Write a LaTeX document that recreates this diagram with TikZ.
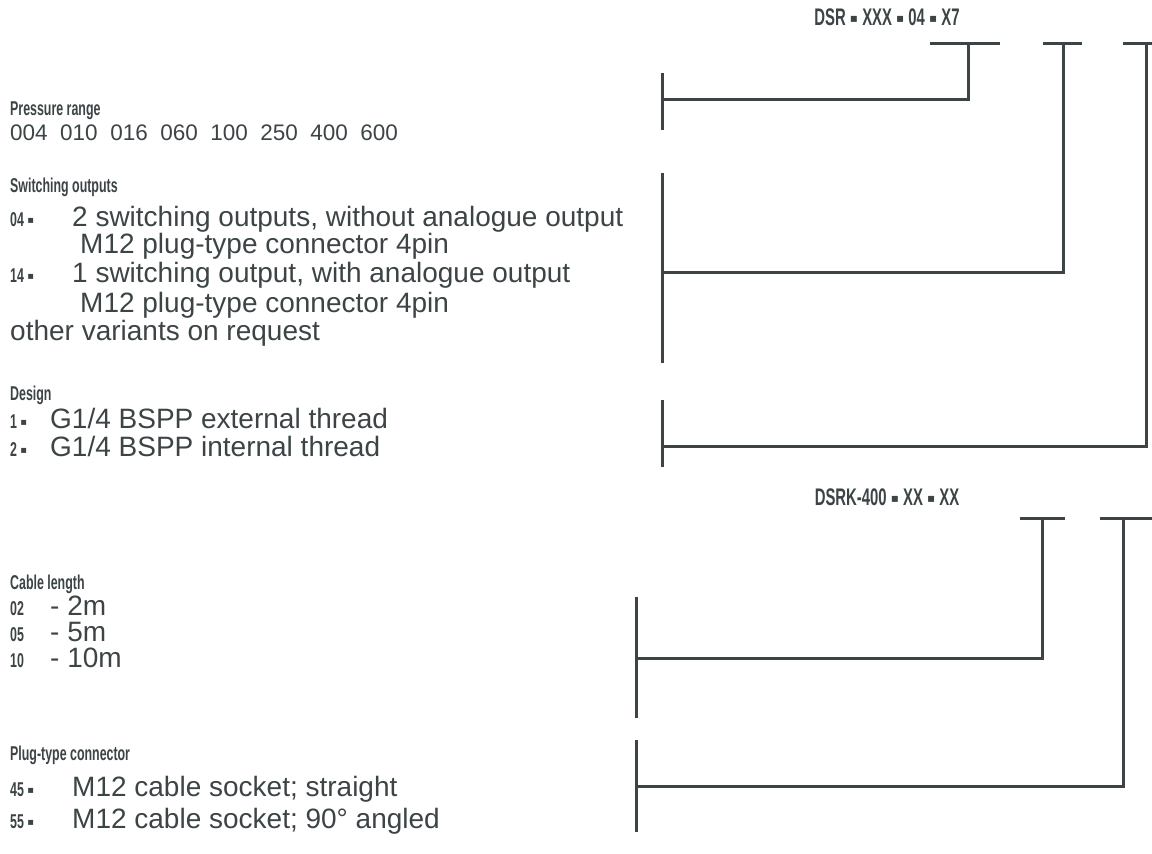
\documentclass[tikz,border=0pt]{standalone}
\usepackage{fontspec}
\setmainfont{Liberation Sans}
\newfontfamily\condfont[FakeStretch=0.62]{Liberation Sans}
\newfontfamily\dotfont{DejaVu Sans}
\usetikzlibrary{positioning}
\definecolor{ink}{HTML}{3C4446}
\newcommand{\sq}{\raisebox{0.12em}{\scalebox{0.5}{\dotfont ▪}}}

\begin{document}
\begin{tikzpicture}[x=1pt, y=-1pt,
        code/.style={font=\condfont\bfseries\fontsize{20}{20}\selectfont, text=ink, anchor=base west, inner sep=0pt},
        head/.style={font=\condfont\bfseries\fontsize{24}{24}\selectfont, text=ink, inner sep=0pt},
        item/.style={font=\fontsize{28}{28}\selectfont, text=ink, anchor=base west, inner sep=0pt},
        bracket/.style={draw=ink, line width=3pt},
    ]
        \useasboundingbox (0,0) rectangle (1152,854);

        \node[head] (dsr) at (887,17) {DSR \sq{} XXX \sq{} 04 \sq{} X7};
        \node[head] (dsrk) at (887,497) {DSRK-400 \sq{} XX \sq{} XX};

        \node[code] (pressure) at (10,115) {Pressure range};
        \node[item, font=\fontsize{22.5}{22.5}\selectfont] (ranges) at (10,140) {004\ \ 010\ \ 016\ \ 060\ \ 100\ \ 250\ \ 400\ \ 600};

        \node[code] (outputs) at (10,192) {Switching outputs};
        \node[code] (c04) at (10,226) {04\,\sq};
        \node[item] (t04) at (72,226) {2 switching outputs, without\ analogue\ output};
        \node[item] (t04b) at (80,253) {M12 plug-type connector 4pin};
        \node[code] (c14) at (10,282) {14\,\sq};
        \node[item] (t14) at (72,282) {1 switching output, with analogue output};
        \node[item] (t14b) at (80,312) {M12 plug-type connector 4pin};
        \node[item] (other) at (10,340) {other variants on request};

        \node[code] (design) at (10,400) {Design};
        \node[code] (c1) at (10,428) {1\,\sq};
        \node[item] (t1) at (50,428) {G1/4 BSPP external thread};
        \node[code] (c2) at (10,456) {2\,\sq};
        \node[item] (t2) at (50,456) {G1/4 BSPP internal thread};

        \node[code] (cable) at (10,589) {Cable length};
        \node[code] (c02) at (10,615) {02};
        \node[item] (t02) at (50,615) {- 2m};
        \node[code] (c05) at (10,641) {05};
        \node[item] (t05) at (50,641) {- 5m};
        \node[code] (c10) at (10,667) {10};
        \node[item] (t10) at (50,667) {- 10m};

        \node[code] (plug) at (10,760) {Plug-type connector};
        \node[code] (c45) at (10,796) {45\,\sq};
        \node[item] (t45) at (72,796) {M12 cable socket; straight};
        \node[code] (c55) at (10,828) {55\,\sq};
        \node[item] (t55) at (72,828) {M12 cable socket; 90° angled};

        \coordinate (pa) at (662,73);
        \coordinate (pb) at (662,130);
        \coordinate (pm) at (662,99);
        \coordinate (pt) at (968,43);
        \coordinate (pl) at (930,43);
        \coordinate (pr) at (1000,43);

        \coordinate (oa) at (662,173);
        \coordinate (ob) at (662,363);
        \coordinate (om) at (662,272);
        \coordinate (ot) at (1063,43);
        \coordinate (ol) at (1043,43);
        \coordinate (or) at (1082,43);

        \coordinate (da) at (662,400);
        \coordinate (db) at (662,467);
        \coordinate (dm) at (662,446);
        \coordinate (dt) at (1146,43);
        \coordinate (dl) at (1123,43);
        \coordinate (dr) at (1152,43);

        \coordinate (ka) at (636,597);
        \coordinate (kb) at (636,718);
        \coordinate (km) at (636,658);
        \coordinate (kt) at (1042,518);
        \coordinate (kl) at (1020,518);
        \coordinate (kr) at (1065,518);

        \coordinate (sa) at (636,740);
        \coordinate (sb) at (636,832);
        \coordinate (sm) at (636,786);
        \coordinate (st) at (1123,518);
        \coordinate (sl) at (1100,518);
        \coordinate (sr) at (1152,518);

        \draw[bracket] (pa) -- (pb);
        \draw[bracket] (pm) -| (pt);
        \draw[bracket] (pl) -- (pr);
        \draw[bracket] (oa) -- (ob);
        \draw[bracket] (om) -| (ot);
        \draw[bracket] (ol) -- (or);
        \draw[bracket] (da) -- (db);
        \draw[bracket] (dm) -| (dt);
        \draw[bracket] (dl) -- (dr);
        \draw[bracket] (ka) -- (kb);
        \draw[bracket] (km) -| (kt);
        \draw[bracket] (kl) -- (kr);
        \draw[bracket] (sa) -- (sb);
        \draw[bracket] (sm) -| (st);
        \draw[bracket] (sl) -- (sr);
    \end{tikzpicture}
\end{document}
